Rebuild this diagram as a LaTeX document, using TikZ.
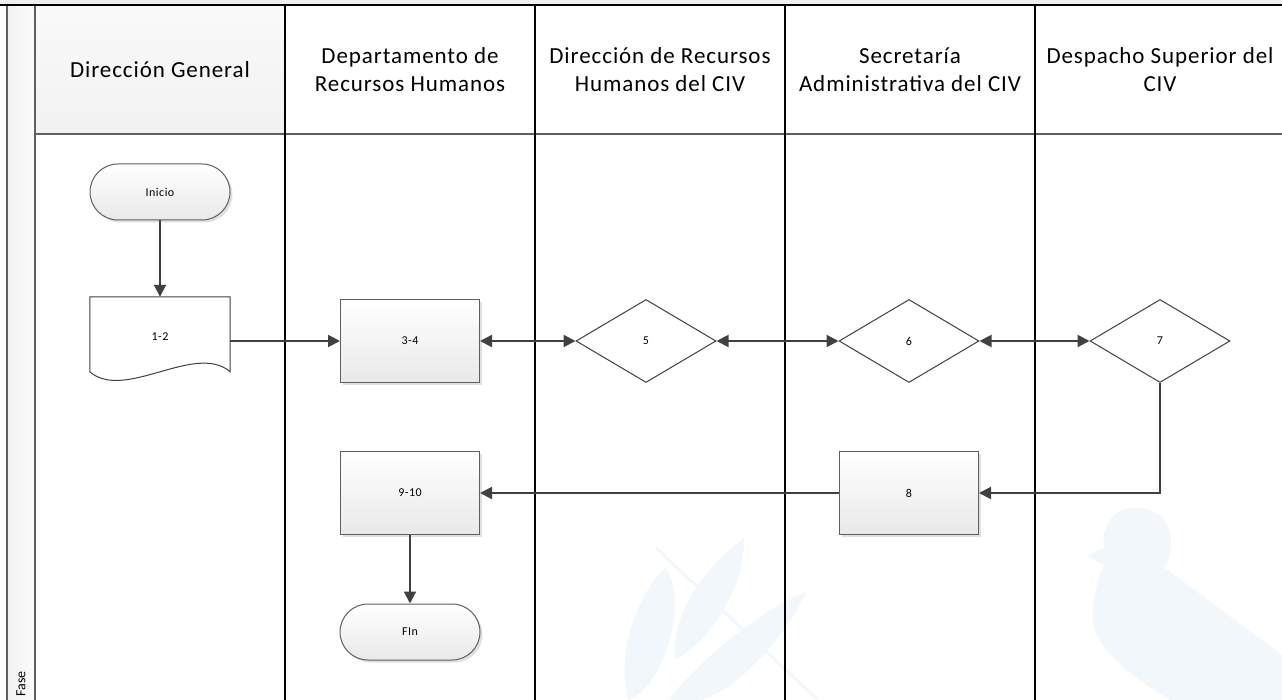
\documentclass[tikz,border=0pt]{standalone}
\usepackage{fontspec}
\setmainfont{Carlito}
\newfontfamily\lanefont[LetterSpace=4]{Carlito}
\usetikzlibrary{positioning,arrows.meta,shapes.geometric,shadows,backgrounds}
\definecolor{linegray}{RGB}{64,64,64}
\definecolor{edgegray}{RGB}{95,95,95}
\definecolor{headgray}{RGB}{239,239,239}
\definecolor{boxbottom}{RGB}{233,233,233}
\definecolor{markblue}{RGB}{241,247,250}

\begin{document}
\begin{tikzpicture}[
    x=1pt, y=-1pt,
    lane/.style={
        line width=2pt,
        black
    },
    frame/.style={
        line width=2pt,
        edgegray
    },
    head/.style={
        align=center,
        font=\lanefont\fontsize{23}{28}\selectfont
    },
    proc/.style={
        rectangle,
        draw=edgegray,
        line width=1pt,
        top color=white,
        bottom color=boxbottom,
        minimum width=139pt,
        minimum height=83pt,
        font=\lanefont\fontsize{12}{14}\selectfont,
        drop shadow={shadow xshift=2.5pt, shadow yshift=-2.5pt,
            fill=black, opacity=0.12}
    },
    term/.style={
        proc,
        rounded corners=28pt,
        minimum width=140pt,
        minimum height=56pt
    },
    decision/.style={
        diamond,
        aspect=1.7,
        draw=linegray,
        line width=1pt,
        fill=white,
        inner sep=0pt,
        minimum width=140pt,
        minimum height=83pt,
        font=\lanefont\fontsize{12}{14}\selectfont
    },
    docbox/.style={
        rectangle,
        minimum width=140pt,
        minimum height=88pt,
        font=\lanefont\fontsize{12}{14}\selectfont
    },
    docline/.style={
        draw=linegray,
        line width=1pt,
        fill=white
    },
    arr/.style={
        -{Triangle[length=12pt,width=12pt]},
        line width=2pt,
        linegray
    },
    twoarr/.style={
        arr,
        {Triangle[length=12pt,width=12pt]}-{Triangle[length=12pt,width=12pt]}
    }
]
\useasboundingbox (0,0) rectangle (1282,700);

% ============================================================
% WATERMARK (very faint, behind everything)
% ============================================================

% bird
\fill[markblue] (1086,556) -- (1104,548)
    .. controls (1100,515) and (1125,505) .. (1140,508)
    .. controls (1170,510) and (1178,540) .. (1165,568)
    -- (1282,655) -- (1282,700) -- (1170,700)
    .. controls (1120,670) and (1088,640) .. (1093,610)
    .. controls (1095,585) and (1100,575) .. (1104,565) -- cycle;
% leaves and crossed stem
\fill[markblue] (666,567) .. controls (690,610) and (660,690) .. (628,700)
    .. controls (615,650) and (640,590) .. cycle;
\fill[markblue] (744,538) .. controls (745,590) and (710,640) .. (675,660)
    .. controls (670,620) and (700,570) .. cycle;
\fill[markblue] (806,592) .. controls (790,630) and (740,690) .. (700,700)
    -- (668,700) .. controls (700,660) and (760,610) .. cycle;
\draw[markblue, line width=3pt] (656,548) -- (818,700);

% ============================================================
% POOL FRAME AND LANES
% ============================================================

\fill[headgray] (0,0) rectangle (1282,5);
\shade[left color=gray!10, right color=gray!3] (7,5) rectangle (35,700);
\shade[top color=gray!4, bottom color=gray!11] (35,5) rectangle (285,134);

\draw[frame] (35,134) -- (1282,134);
\draw[frame] (7,5) -- (7,700);
\draw[frame] (35,5) -- (35,700);
\draw[lane] (0,5) -- (1282,5);
\foreach \x in {285,535,785,1035}
    \draw[lane] (\x,5) -- (\x,700);

\node[rotate=90, font=\fontsize{14}{16}\selectfont] (fase) at (21,684) {Fase};

% lane headers
\node[head] (hdg)  at (160,70)  {Dirección General};
\node[head] (hdrh) at (410,70)  {Departamento de\\Recursos Humanos};
\node[head] (hciv) at (660,70)  {Dirección de Recursos\\Humanos del CIV};
\node[head] (hsec) at (910,70)  {Secretaría\\Administrativa del CIV};
\node[head] (hdsp) at (1160,70) {Despacho Superior del\\CIV};

% ============================================================
% FLOW
% ============================================================

\node[term] (inicio) at (160,192) {Inicio};

% document symbol: wavy outline goes under its text
\node[docbox] (doc) at (160,341) {\raisebox{8pt}{1-2}};
\begin{scope}[on background layer]
\draw[docline] (doc.north west) -- (doc.north east)
    -- ([yshift=-75pt]doc.north east)
    .. controls ([xshift=-35pt,yshift=-45pt]doc.north east)
    and ([xshift=35pt,yshift=-105pt]doc.north west)
    .. ([yshift=-75pt]doc.north west) -- cycle;
\end{scope}

\node[proc] (p34) at (410,341) {3-4};
\node[decision] (d5) at (646,341) {5};
\node[decision] (d6) at (909,341) {6};
\node[decision] (d7) at (1160,341) {7};

\node[proc] (p8) at (909,493) {8};
\node[proc] (p910) at (410,493) {9-10};
\node[term] (fin) at (410,632) {FIn};

% Arrows
\draw[arr] (inicio) -- (doc);
\draw[arr] (doc.east) -- (p34.west);
\draw[twoarr] (p34) -- (d5);
\draw[twoarr] (d5) -- (d6);
\draw[twoarr] (d6) -- (d7);
\draw[arr] (d7.south) |- (p8.east);
\draw[arr] (p8) -- (p910);
\draw[arr] (p910) -- (fin);

\end{tikzpicture}
\end{document}
